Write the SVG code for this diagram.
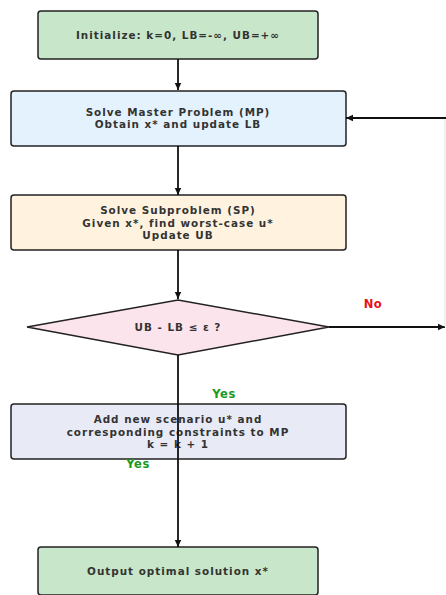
<svg xmlns="http://www.w3.org/2000/svg" width="446" height="595" viewBox="0 0 446 595">
<style>
.box{stroke:#222;stroke-width:1.5}
.t{font-family:"DejaVu Sans",sans-serif;font-weight:bold;font-size:10.4px;letter-spacing:1px;fill:#333;text-anchor:middle}
.c{stroke:#111;stroke-width:1.8;fill:none;marker-end:url(#ah)}
.yes{font-family:"DejaVu Sans",sans-serif;font-weight:bold;font-size:11.5px;letter-spacing:0.6px;fill:#1a9a1a;text-anchor:middle}
.no{font-family:"DejaVu Sans",sans-serif;font-weight:bold;font-size:11.5px;letter-spacing:0.6px;fill:#e8101a;text-anchor:middle}
</style>
<defs>
<marker id="ah" markerWidth="8" markerHeight="8" refX="7" refY="4" orient="auto" markerUnits="userSpaceOnUse">
<path d="M0,0.8 L7,4 L0,7.2 Z" fill="#111"/>
</marker>
</defs>
<rect width="446" height="595" fill="#fff"/>
<g id="init">
<rect class="box" x="38" y="11" width="280" height="48" rx="3" fill="#c8e6c9"/>
<text class="t" x="178" y="39">Initialize: k=0, LB=-∞, UB=+∞</text>
</g>
<g id="master">
<rect class="box" x="11" y="91" width="335" height="55" rx="3" fill="#e3f2fd"/>
<text class="t" x="178" y="115.5">Solve Master Problem (MP)</text>
<text class="t" x="178" y="128">Obtain x* and update LB</text>
</g>
<g id="sub">
<rect class="box" x="11" y="195" width="335" height="55" rx="3" fill="#fff3e0"/>
<text class="t" x="178" y="214">Solve Subproblem (SP)</text>
<text class="t" x="178" y="226.5">Given x*, find worst-case u*</text>
<text class="t" x="178" y="239">Update UB</text>
</g>
<g id="decision">
<polygon class="box" points="27,327 178,300 329,327 178,355" fill="#fce4ec" stroke-width="1.2"/>
<text class="t" x="178" y="331">UB - LB ≤ ε ?</text>
</g>
<g id="addcut">
<rect class="box" x="11" y="404" width="335" height="55" rx="3" fill="#e8eaf6"/>
<text class="t" x="178" y="423">Add new scenario u* and</text>
<text class="t" x="178" y="435.5">corresponding constraints to MP</text>
<text class="t" x="178" y="448">k = k + 1</text>
</g>
<g id="output">
<rect class="box" x="38" y="547" width="280" height="48" rx="3" fill="#c8e6c9"/>
<text class="t" x="178" y="575">Output optimal solution x*</text>
</g>
<g id="connectors">
<line class="c" x1="178" y1="59" x2="178" y2="90"/>
<line class="c" x1="178" y1="146" x2="178" y2="195"/>
<line class="c" x1="178" y1="250" x2="178" y2="299"/>
<line class="c" x1="329" y1="327" x2="445" y2="327"/>
<line x1="445" y1="118" x2="445" y2="327" stroke="#e4e4e4" stroke-width="1"/>
<line class="c" x1="446" y1="118" x2="346" y2="118"/>
<line class="c" x1="178" y1="355" x2="178" y2="547"/>
<text class="no" x="373" y="307.5">No</text>
<text class="yes" x="224" y="397.5">Yes</text>
<text class="yes" x="138" y="467.5">Yes</text>
</g>
</svg>
